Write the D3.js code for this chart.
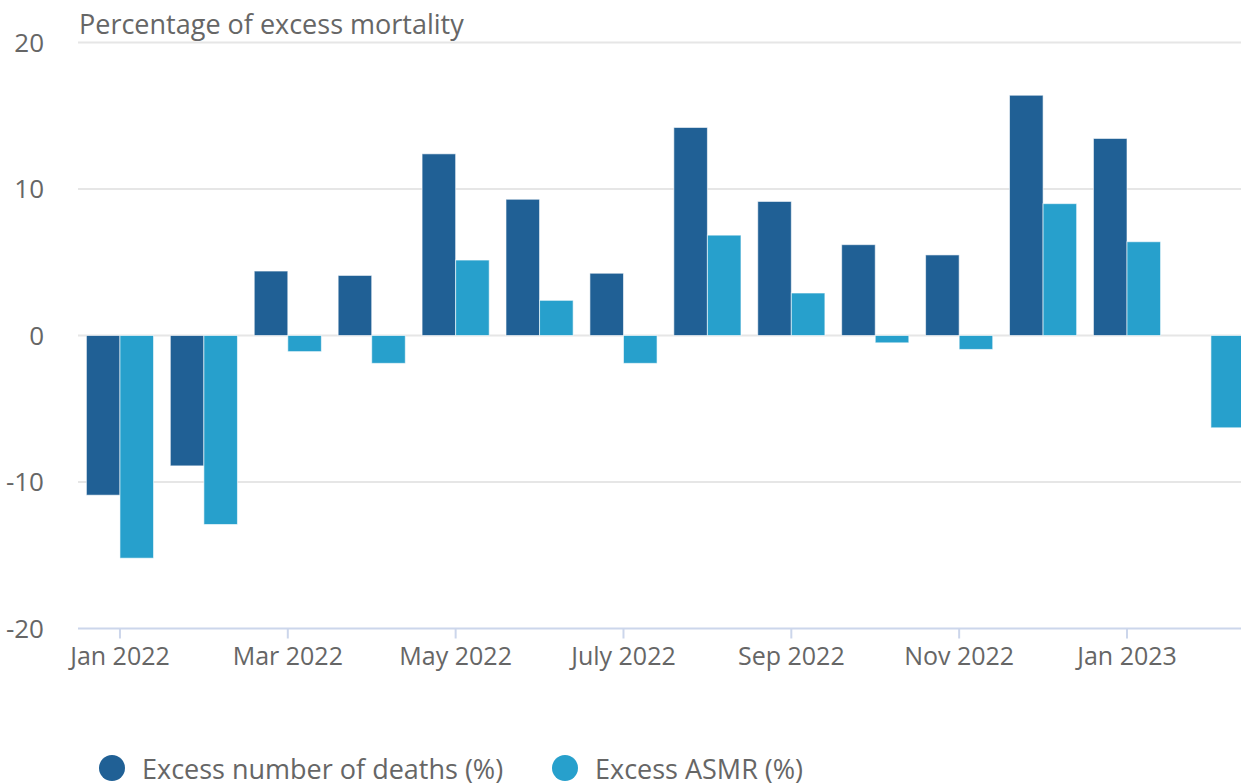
<!DOCTYPE html>
<html>
<head>
<meta charset="utf-8">
<script src="https://cdn.jsdelivr.net/npm/d3@7"></script>
<style>
  html, body { margin: 0; padding: 0; background: #fff; overflow: hidden; }
  text { font-family: "Open Sans", sans-serif; }
</style>
</head>
<body>
<div id="chart"></div>
<script>
// months shown on the x axis (every other one gets a label)
var months = ["Jan 2022", "Feb 2022", "Mar 2022", "Apr 2022", "May 2022", "June 2022",
  "July 2022", "Aug 2022", "Sep 2022", "Oct 2022", "Nov 2022", "Dec 2022", "Jan 2023", "Feb 2023"];

// excess number of deaths (%), Feb 2023 has no value
var deaths = [-10.9, -8.9, 4.4, 4.1, 12.4, 9.3, 4.25, 14.2, 9.15, 6.2, 5.5, 16.4, 13.45, null];

// excess age-standardised mortality rate (%)
var asmr = [-15.2, -12.9, -1.1, -1.9, 5.15, 2.4, -1.9, 6.85, 2.9, -0.5, -0.95, 9.0, 6.4, -6.3];

var yTicks = [-20, -10, 0, 10, 20];
var seriesNames = ["Excess number of deaths (%)", "Excess ASMR (%)"];
var colors = ["#206095", "#27a0cc"];

var W = 1241, H = 783;
var plotLeft = 78, plotTop = 42.5, plotBottom = 628.5;
var step = 83.92;
var plotRight = plotLeft + step * months.length;

var svg = d3.select("#chart").append("svg")
  .attr("width", W)
  .attr("height", H);

var x = d3.scaleBand()
  .domain(months)
  .range([plotLeft, plotRight])
  .paddingInner(0.2)
  .paddingOuter(0.1);

var x1 = d3.scaleBand()
  .domain([0, 1])
  .range([0, x.bandwidth()]);

var y = d3.scaleLinear()
  .domain([-20, 20])
  .range([plotBottom, plotTop]);

// gridlines
svg.append("g")
  .selectAll("line")
  .data(yTicks.filter(function(d) { return d > -20; }))
  .join("line")
  .attr("x1", plotLeft)
  .attr("x2", W)
  .attr("y1", function(d) { return y(d); })
  .attr("y2", function(d) { return y(d); })
  .attr("stroke", "#e6e6e6")
  .attr("stroke-width", 2);

// y tick labels
svg.append("g")
  .selectAll("text")
  .data(yTicks)
  .join("text")
  .attr("x", 44)
  .attr("y", function(d) { return y(d) + 9; })
  .attr("text-anchor", "end")
  .attr("font-size", 26)
  .attr("fill", "#666")
  .text(function(d) { return d; });

// axis title on top
svg.append("text")
  .attr("x", 79)
  .attr("y", 34)
  .attr("font-size", 27)
  .attr("fill", "#666")
  .text("Percentage of excess mortality");

// bars
var series = [deaths, asmr];
series.forEach(function(vals, s) {
  svg.append("g")
    .selectAll("rect")
    .data(vals.map(function(v, i) { return {m: months[i], v: v}; })
      .filter(function(d) { return d.v !== null; }))
    .join("rect")
    .attr("x", function(d) { return x(d.m) + x1(s); })
    .attr("width", x1.bandwidth())
    .attr("y", function(d) { return y(Math.max(0, d.v)); })
    .attr("height", function(d) { return Math.abs(y(d.v) - y(0)); })
    .attr("fill", colors[s])
    .attr("stroke", "rgba(255,255,255,0.6)")
    .attr("stroke-width", 1);
});

// x axis
var xAxis = d3.axisBottom(x)
  .tickValues(months.filter(function(d, i) { return i % 2 === 0; }))
  .tickSize(10)
  .tickPadding(9);

var gx = svg.append("g")
  .attr("transform", "translate(0," + plotBottom + ")")
  .call(xAxis);
gx.select(".domain")
  .attr("d", "M" + plotLeft + ",0H" + plotRight)
  .attr("stroke", "#ccd6eb")
  .attr("stroke-width", 2);
gx.selectAll(".tick line")
  .attr("stroke", "#ccd6eb")
  .attr("stroke-width", 2);
gx.selectAll(".tick text")
  .attr("font-size", 25)
  .attr("font-family", "Open Sans, sans-serif")
  .attr("fill", "#666");

// legend
var legendX = [112, 565];
var legend = svg.append("g")
  .selectAll("g")
  .data(seriesNames)
  .join("g")
  .attr("transform", function(d, i) { return "translate(" + legendX[i] + ",768)"; });
legend.append("circle")
  .attr("r", 13)
  .attr("fill", function(d, i) { return colors[i]; });
legend.append("text")
  .attr("x", 30)
  .attr("y", 11)
  .attr("font-size", 27)
  .attr("fill", "#666")
  .text(function(d) { return d; });
</script>
</body>
</html>
